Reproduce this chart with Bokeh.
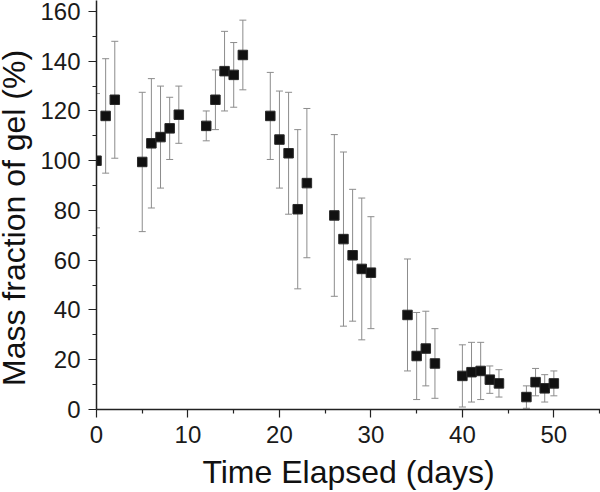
import math
from bokeh.plotting import figure
from bokeh.models import ColumnDataSource, Whisker, TeeHead, FixedTicker, Range1d, Label
from bokeh.embed import file_html
from bokeh.resources import INLINE

# --- data ---
days = [0, 1, 2, 5, 6, 7, 8, 9, 12, 13, 14, 15, 16, 19, 20, 21, 22, 23,
        26, 27, 28, 29, 30, 34, 35, 36, 37, 40, 41, 42, 43, 44, 47, 48, 49, 50]
mass = [100, 118, 124.5, 99.5, 107, 109.5, 113, 118.5, 114, 124.5, 136, 134.5, 142.5,
        118, 108.5, 103, 80.5, 91, 78, 68.5, 62, 56.5, 55, 38, 21.5, 24.5, 18.5,
        13.5, 15, 15.5, 12, 10.5, 5, 11, 8.5, 10.5]
err = [27, 23, 23.5, 28, 26, 20.5, 12.5, 11.5, 6, 12, 16, 13, 14,
       17.5, 19.5, 24.5, 32, 30, 32.5, 35, 26.5, 28.5, 22.5, 22.5, 17.5, 15, 14,
       12.5, 12, 11.5, 5.5, 5.5, 4.5, 5.5, 5.5, 5]
x_ticks = [0, 10, 20, 30, 40, 50]
y_ticks = [0, 20, 40, 60, 80, 100, 120, 140, 160]
x_label = "Time Elapsed (days)"
y_label = "Mass fraction of gel (%)"

upper = [m + e for m, e in zip(mass, err)]
lower = [m - e for m, e in zip(mass, err)]
src = ColumnDataSource(dict(x=days, y=mass, upper=upper, lower=lower))

p = figure(width=600, height=492, output_backend="svg", toolbar_location=None,
           x_range=Range1d(0, 55.1), y_range=Range1d(0, 164.4),
           min_border_left=96, min_border_right=0, min_border_top=0, min_border_bottom=83)
p.outline_line_color = None
p.grid.visible = False
p.background_fill_color = "white"
p.border_fill_color = "white"

ERR_COL = "#8c8c8c"
wh = Whisker(source=src, base="x", upper="upper", lower="lower",
             line_color=ERR_COL, line_width=1,
             upper_head=TeeHead(size=7, line_color=ERR_COL, line_width=1),
             lower_head=TeeHead(size=7, line_color=ERR_COL, line_width=1))
p.add_layout(wh)

p.scatter("x", "y", source=src, marker="square", size=9.5,
          fill_color="#111111", line_color="#2a2a2a", line_width=1)

FONT = "Liberation Sans"
for ax in (p.xaxis[0], p.yaxis[0]):
    ax.axis_line_color = "#222222"
    ax.axis_line_width = 1.5
    ax.major_tick_line_color = "#222222"
    ax.minor_tick_line_color = "#222222"
    ax.major_tick_line_width = 1.2
    ax.minor_tick_line_width = 1.2
    ax.major_tick_in = 0
    ax.major_tick_out = 8
    ax.minor_tick_in = 0
    ax.minor_tick_out = 4
    ax.major_label_text_font = FONT
    ax.major_label_text_font_size = "24px"
    ax.major_label_text_color = "#1a1a1a"
    ax.axis_label_text_font = FONT
    ax.axis_label_text_font_size = "32px"
    ax.axis_label_text_font_style = "normal"
    ax.axis_label_text_color = "#111111"

p.xaxis[0].ticker = FixedTicker(ticks=x_ticks, minor_ticks=[t + 5 for t in x_ticks])
p.yaxis[0].ticker = FixedTicker(ticks=y_ticks, minor_ticks=[t + 10 for t in y_ticks[:-1]])
p.xaxis[0].major_label_standoff = 8
p.yaxis[0].major_label_standoff = 8
p.xaxis[0].axis_label = x_label
p.xaxis[0].axis_label_standoff = 8

ylab = Label(x=12, y=77, x_units="screen", y_units="data", text=y_label,
             angle=math.pi / 2, text_font=FONT, text_font_size="32px",
             text_color="#111111", text_align="center", text_baseline="alphabetic")
p.add_layout(ylab, "left")

open("out.html", "w").write(file_html(p, INLINE))
